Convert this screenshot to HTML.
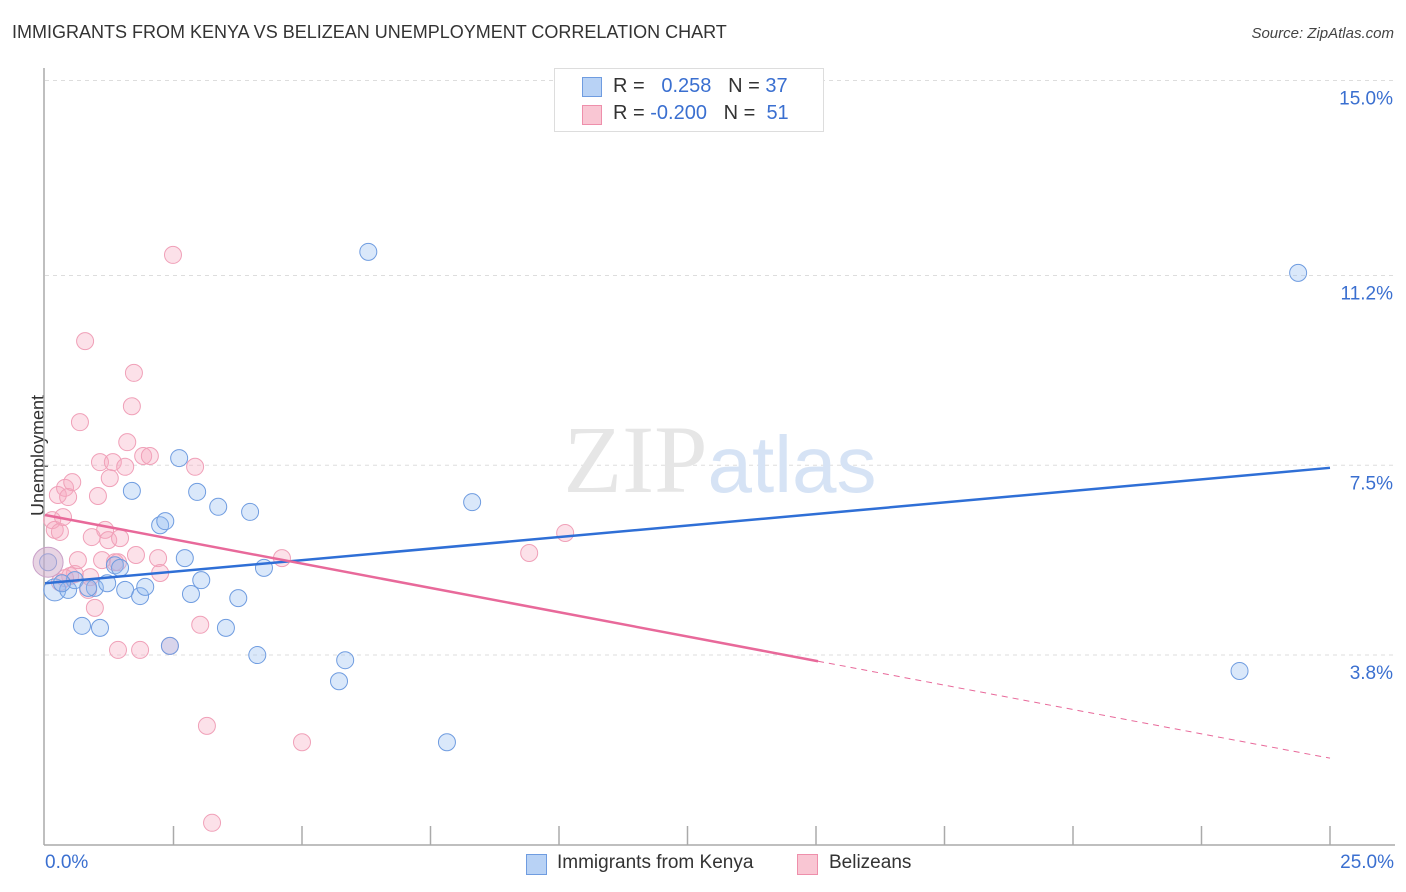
<!DOCTYPE html>
<html><head><meta charset="utf-8"><style>
body{margin:0;background:#fff;font-family:"Liberation Sans",sans-serif;}
#wrap{position:relative;width:1406px;height:892px;overflow:hidden;}
.t{position:absolute;white-space:nowrap;}
</style></head><body>
<div id="wrap">
<div class="t" style="left:12px;top:22px;font-size:18px;color:#333;">IMMIGRANTS FROM KENYA VS BELIZEAN UNEMPLOYMENT CORRELATION CHART</div>
<div class="t" style="right:12px;top:25px;font-size:15px;color:#444;font-style:italic;">Source: ZipAtlas.com</div>
<div class="t" style="left:-22px;top:445px;font-size:18px;color:#333;transform:rotate(-90deg);">Unemployment</div>
<svg id="svg" width="1406" height="892" style="position:absolute;left:0;top:0;"></svg>
<div style="position:absolute;left:554px;top:68px;width:268px;height:62px;border:1px solid #ddd;background:#fff;font-size:20px;">
 <div style="position:absolute;left:27px;top:8px;width:18px;height:18px;background:#b8d2f5;border:1px solid #6f9ce0;"></div>
 <div class="t" style="left:58px;top:6px;color:#333;">R = &nbsp;&nbsp;<span style="color:#3a6fd0">0.258</span>&nbsp;&nbsp;&nbsp;N = <span style="color:#3a6fd0">37</span></div>
 <div style="position:absolute;left:27px;top:36px;width:18px;height:18px;background:#f9c6d3;border:1px solid #ee8fab;"></div>
 <div class="t" style="left:58px;top:33px;color:#333;">R = <span style="color:#3a6fd0">-0.200</span>&nbsp;&nbsp;&nbsp;N = &nbsp;<span style="color:#3a6fd0">51</span></div>
</div>
<div class="t" style="left:45px;top:852px;font-size:19px;color:#3a6fd0;">0.0%</div>
<div class="t" style="right:12px;top:852px;font-size:19px;color:#3a6fd0;">25.0%</div>
<div style="position:absolute;left:526px;top:854px;width:19px;height:19px;background:#b8d2f5;border:1px solid #6f9ce0;"></div>
<div class="t" style="left:557px;top:852px;font-size:19px;color:#333;">Immigrants from Kenya</div>
<div style="position:absolute;left:797px;top:854px;width:19px;height:19px;background:#f9c6d3;border:1px solid #ee8fab;"></div>
<div class="t" style="left:829px;top:852px;font-size:19px;color:#333;">Belizeans</div>
</div>
<script>
const yTicks=[15.0,11.2,7.5,3.8];
const yTickLabels=["15.0%","11.2%","7.5%","3.8%"];
const kenyaX=[0.19,0.06,0.45,0.58,0.97,0.72,1.07,1.21,1.36,1.46,1.56,1.69,1.85,1.95,2.24,2.34,2.43,2.61,2.72,2.84,2.96,3.04,3.37,3.52,3.76,3.99,4.13,4.26,5.72,5.84,6.29,7.82,8.31,23.24,24.38,0.33,0.84];
const kenyaY=[5.07,5.61,5.07,5.26,5.11,4.37,4.33,5.20,5.55,5.50,5.07,7.00,4.95,5.13,6.33,6.41,3.98,7.64,5.69,4.99,6.98,5.26,6.69,4.33,4.91,6.59,3.80,5.50,3.29,3.70,11.66,2.10,6.78,3.49,11.25,5.20,5.11];
const belX=[0.06,0.14,0.19,0.25,0.29,0.35,0.39,0.45,0.49,0.53,0.58,0.64,0.68,0.78,0.84,0.88,0.97,1.03,1.07,1.11,1.17,1.23,1.26,1.32,1.36,1.42,1.46,1.56,1.60,1.69,1.73,1.77,1.85,1.91,2.04,2.20,2.24,2.43,2.49,2.92,3.02,3.15,3.25,4.61,5.00,9.42,10.12,0.29,0.91,1.42,0.39];
const belY=[5.61,6.43,6.24,6.92,6.20,6.49,7.06,6.88,5.34,7.17,5.38,5.65,8.34,9.92,5.07,5.32,4.72,6.90,7.56,5.65,6.24,6.04,7.25,7.56,5.61,3.90,6.08,7.47,7.95,8.65,9.30,5.75,3.90,7.68,7.68,5.69,5.40,3.98,11.60,7.47,4.39,2.42,0.53,5.69,2.10,5.79,6.18,5.22,6.10,5.61,5.30];
const kenyaTrendX=[0,25], kenyaTrendY=[5.20,7.45];
const belTrendX=[0,15.04,25], belTrendY=[6.53,3.68,1.79];
const X0=45,X1=1330,YB=850,PXY=51.3;
const sx=v=>X0+v/25*(X1-X0), sy=v=>YB-v*PXY;
const svg=document.getElementById('svg');const NS='http://www.w3.org/2000/svg';
function mk(t,a){const e=document.createElementNS(NS,t);for(const k in a)e.setAttribute(k,a[k]);svg.appendChild(e);return e;}
let e;
yTicks.forEach((v,i)=>{
 e=mk('line',{x1:45,x2:1395,y1:sy(v),y2:sy(v),stroke:'#ddd','stroke-dasharray':'4,4'});
 
 
 e=mk('text',{x:1393,y:sy(v)+24,'text-anchor':'end','font-size':19,fill:'#3a6fd0','font-family':'Liberation Sans'});
 e.textContent=yTickLabels[i];
 
 
});
e=mk('text',{x:720,y:492,'text-anchor':'middle','font-size':96,fill:'#e6e6e6','font-family':'Liberation Serif'});e.innerHTML='ZIP<tspan fill="#d6e3f5" font-family="Liberation Sans" font-size="80">atlas</tspan>';


e=mk('line',{x1:44,x2:44,y1:68,y2:845,stroke:'#aaa','stroke-width':1.5});


e=mk('line',{x1:44,x2:1395,y1:845,y2:845,stroke:'#aaa','stroke-width':1.5});


for(let i=1;i<=10;i++){e=mk('line',{x1:sx(i*2.5),x2:sx(i*2.5),y1:826,y2:845,stroke:'#aaa','stroke-width':1.5});
 
 }
belX.forEach((x,i)=>{e=mk('circle',{cx:sx(x),cy:sy(belY[i]),r:i==0?0:8.5,fill:'rgba(246,170,192,0.35)',stroke:'#f0a0b8','stroke-width':1});
 
 });
kenyaX.forEach((x,i)=>{e=mk('circle',{cx:sx(x),cy:sy(kenyaY[i]),r:i==0?11:8.5,fill:'rgba(150,190,240,0.35)',stroke:'#6f9ce0','stroke-width':1});
 
 });
e=mk('circle',{cx:sx(belX[0]),cy:sy(belY[0]),r:15,fill:'rgba(210,170,200,0.5)',stroke:'#c9a0c8','stroke-width':1});


e=mk('line',{x1:sx(kenyaTrendX[0]),y1:sy(kenyaTrendY[0]),x2:sx(kenyaTrendX[1]),y2:sy(kenyaTrendY[1]),stroke:'#2f6fd6','stroke-width':2.5});


e=mk('line',{x1:sx(belTrendX[0]),y1:sy(belTrendY[0]),x2:sx(belTrendX[1]),y2:sy(belTrendY[1]),stroke:'#e8699a','stroke-width':2.5});


e=mk('line',{x1:sx(belTrendX[1]),y1:sy(belTrendY[1]),x2:sx(belTrendX[2]),y2:sy(belTrendY[2]),stroke:'#e8699a','stroke-width':1,'stroke-dasharray':'6,5'});


</script>
</body></html>
